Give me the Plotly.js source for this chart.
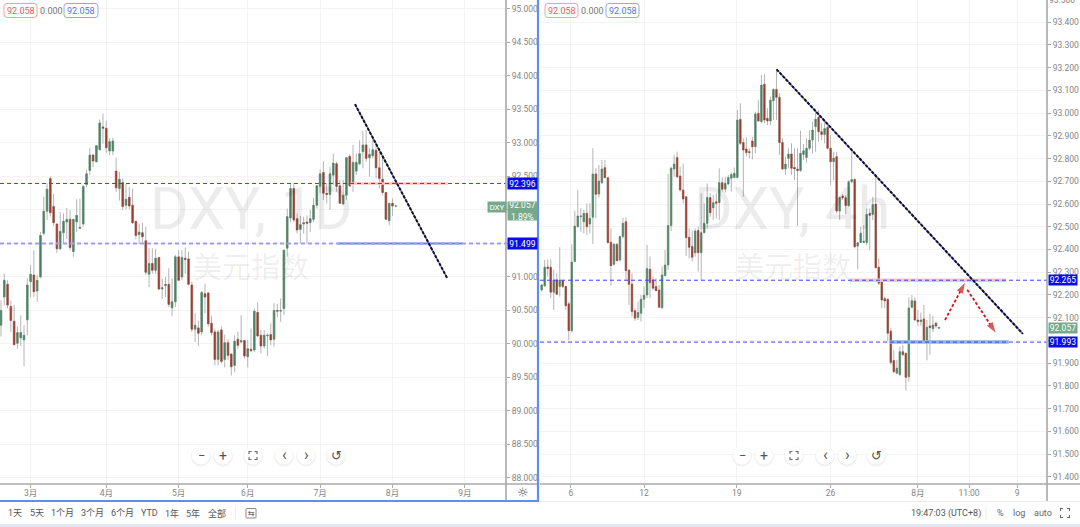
<!DOCTYPE html>
<html><head><meta charset="utf-8">
<script src="https://cdn.plot.ly/plotly-3.0.1.min.js"></script>
<style>html,body{margin:0;padding:0;background:#fff;overflow:hidden}#c{width:1080px;height:527px}</style>
</head><body><div id="c"></div><script>
// ---- Daily chart (left) ----
const leftOpen=[90.28,90.70,90.89,90.56,90.34,90.01,90.09,90.06,90.36,90.93,
91.03,90.79,91.00,91.65,91.98,92.47,92.05,91.79,91.42,91.66,
91.82,91.86,91.38,91.82,91.74,91.79,92.38,92.59,92.82,92.72,
92.90,93.24,93.22,92.88,92.88,92.58,92.32,92.41,92.07,92.19,
92.07,91.83,91.63,91.66,91.54,91.04,91.20,91.10,91.29,90.82,
90.87,90.89,90.54,90.63,91.30,91.00,91.28,91.27,90.88,90.22,
90.24,90.18,90.75,90.76,90.31,90.18,89.77,90.21,89.77,90.02,
89.85,89.68,90.07,90.03,90.05,89.81,89.92,89.91,90.47,90.13,
89.97,90.12,90.14,90.07,90.50,90.49,90.53,91.43,91.88,92.32,
91.87,91.71,91.79,91.82,91.81,91.86,92.07,92.35,92.56,92.25,
92.23,92.52,92.69,92.36,92.09,92.22,92.80,92.40,92.58,92.69,
92.87,92.97,92.78,92.81,92.89,92.63,92.46,92.26,91.84,92.10,92.057];
const leftClose=[90.50,90.95,90.58,90.35,89.99,90.17,90.17,90.13,90.88,91.04,
90.78,90.95,91.62,91.98,92.31,91.96,91.81,91.42,91.68,91.83,
91.86,91.44,91.86,91.92,91.73,92.35,92.54,92.82,92.73,92.96,
93.30,93.22,92.93,93.02,93.03,92.33,92.46,92.05,92.16,92.06,
91.81,91.62,91.67,91.60,91.07,91.20,91.10,91.28,90.82,90.84,
90.89,90.59,90.63,91.30,90.95,91.29,91.26,90.89,90.22,90.28,
90.16,90.77,90.70,90.30,90.17,89.77,90.18,89.74,90.02,89.83,
89.66,90.04,89.98,90.05,89.82,89.93,89.90,90.49,90.12,89.97,
90.13,90.13,90.06,90.50,90.49,90.50,91.40,91.90,92.32,91.85,
91.70,91.78,91.81,91.80,91.87,92.07,92.36,92.54,92.25,92.23,
92.54,92.70,92.35,92.10,92.22,92.78,92.36,92.71,92.71,92.84,
92.97,92.77,92.83,92.90,92.63,92.47,92.26,91.86,92.10,92.06,92.06];
const leftHigh=[90.65,91.05,90.95,90.65,90.58,90.26,90.43,90.28,90.98,91.18,
91.40,91.03,91.67,92.20,92.40,92.50,92.24,91.80,91.97,91.95,
92.03,92.00,91.87,92.16,92.17,92.37,92.60,92.92,92.84,92.97,
93.35,93.44,93.33,93.07,93.08,92.78,92.57,92.47,92.39,92.34,
92.32,91.83,91.80,91.81,91.75,91.43,91.43,91.42,91.30,90.98,
91.00,91.13,90.98,91.33,91.40,91.40,91.44,91.38,90.93,90.46,
90.35,90.79,90.90,90.78,90.42,90.23,90.21,90.26,90.14,90.07,
89.86,90.13,90.18,90.43,90.06,90.06,90.23,90.53,90.62,90.21,
90.21,90.16,90.31,90.61,90.60,90.68,91.40,92.02,92.40,92.40,
91.95,91.91,91.90,91.92,92.00,92.18,92.37,92.61,92.73,92.40,
92.65,92.84,92.72,92.45,92.45,92.79,92.83,92.97,92.84,93.04,
93.18,93.19,92.92,93.07,93.02,92.90,92.79,92.27,92.10,92.17,92.06];
const leftLow=[90.11,90.58,90.53,90.18,89.98,89.93,89.97,89.67,90.13,90.70,
90.70,90.63,90.98,91.62,91.85,91.90,91.76,91.36,91.40,91.50,
91.57,91.40,91.30,91.67,91.72,91.75,92.34,92.52,92.64,92.71,
92.89,92.99,92.85,92.82,92.82,92.27,92.14,92.00,92.01,92.01,
91.79,91.56,91.49,91.49,91.03,90.85,91.05,91.04,90.80,90.67,
90.70,90.55,90.42,90.55,90.94,90.95,91.05,90.87,90.18,90.03,
89.97,90.13,90.46,90.26,90.13,89.68,89.68,89.71,89.65,89.76,
89.53,89.58,89.93,90.01,89.78,89.65,89.88,89.88,90.10,89.86,
89.93,89.82,89.98,89.96,90.40,90.33,90.43,91.30,91.82,91.82,
91.65,91.50,91.65,91.50,91.67,91.82,92.02,92.25,92.15,92.10,
92.00,92.37,92.27,92.09,92.07,92.15,92.34,92.27,92.52,92.67,
92.62,92.72,92.50,92.77,92.47,92.32,92.22,91.85,91.77,91.91,92.05];
const leftTickPos=[9,32,54,75,97,119,141];
const leftTickText=["3月","4月","5月","6月","7月","8月","9月"];
const leftPriceTicks=[88,88.5,89,89.5,90,90.5,91,91.5,92,92.5,93,93.5,94,94.5,95];
const leftPriceLabels=["88.000","88.500","89.000","89.500","90.000","90.500","91.000","","","92.500","93.000","93.500","94.000","94.500","95.000"];

// ---- 4h chart (right) ----
const rightOpen=[92.222,92.240,92.323,92.322,92.212,92.266,92.237,92.262,92.237,92.161,
92.043,92.347,92.500,92.544,92.522,92.559,92.512,92.542,92.732,92.644,
92.694,92.760,92.716,92.432,92.335,92.423,92.354,92.457,92.522,92.310,
92.248,92.131,92.101,92.120,92.181,92.200,92.313,92.266,92.237,92.222,
92.144,92.285,92.332,92.505,92.754,92.804,92.723,92.662,92.632,92.454,
92.413,92.386,92.484,92.386,92.474,92.515,92.628,92.584,92.610,92.606,
92.694,92.665,92.688,92.713,92.717,92.717,92.972,92.870,92.842,92.830,
92.877,92.852,92.999,92.962,93.127,92.977,92.965,93.054,93.104,93.069,
92.871,92.754,92.801,92.820,92.761,92.754,92.747,92.818,92.805,92.845,
92.881,92.940,92.981,92.918,92.906,92.937,92.845,92.786,92.808,92.569,
92.635,92.628,92.593,92.698,92.708,92.415,92.431,92.431,92.431,92.559,
92.554,92.600,92.322,92.266,92.184,92.181,92.041,91.912,91.856,91.849,
91.951,91.944,91.841,92.146,92.174,92.090,92.083,92.095,91.997,92.064,
92.052,92.076,92.054];
const rightClose=[92.244,92.322,92.317,92.212,92.266,92.203,92.266,92.237,92.153,92.043,
92.345,92.503,92.547,92.547,92.559,92.500,92.537,92.732,92.643,92.701,
92.754,92.716,92.430,92.329,92.423,92.351,92.457,92.515,92.307,92.247,
92.127,92.098,92.123,92.181,92.199,92.316,92.254,92.230,92.219,92.146,
92.288,92.332,92.505,92.757,92.776,92.720,92.662,92.622,92.452,92.410,
92.366,92.481,92.386,92.474,92.515,92.629,92.562,92.606,92.603,92.694,
92.665,92.691,92.717,92.730,92.735,92.969,92.867,92.837,92.826,92.827,
92.852,92.996,92.965,93.123,92.969,92.965,93.057,93.104,93.069,92.870,
92.754,92.776,92.820,92.757,92.754,92.747,92.823,92.834,92.845,92.881,
92.925,92.973,92.918,92.906,92.932,92.845,92.786,92.802,92.569,92.629,
92.628,92.593,92.698,92.708,92.412,92.430,92.471,92.437,92.554,92.550,
92.598,92.320,92.252,92.178,92.174,92.032,91.903,91.863,91.878,91.951,
91.937,91.838,92.143,92.175,92.090,92.083,92.090,91.995,92.058,92.057,
92.068,92.064,92.057];
const rightHigh=[92.249,92.354,92.357,92.357,92.310,92.295,92.410,92.266,92.237,92.171,
92.423,92.571,92.662,92.581,92.574,92.603,92.603,92.845,92.757,92.771,
92.794,92.794,92.720,92.493,92.427,92.427,92.460,92.540,92.541,92.310,
92.295,92.142,92.171,92.200,92.237,92.420,92.369,92.281,92.273,92.244,
92.325,92.398,92.732,92.764,92.815,92.830,92.764,92.776,92.632,92.493,
92.483,92.493,92.500,92.647,92.603,92.691,92.647,92.640,92.647,92.757,
92.717,92.720,92.728,92.738,92.761,93.013,93.043,92.889,92.893,92.845,
92.896,93.006,93.057,93.167,93.171,93.021,93.072,93.108,93.192,93.087,
92.889,92.808,92.845,92.867,92.845,92.845,92.922,92.864,92.889,92.925,
92.962,93.020,93.013,92.957,92.969,92.954,92.903,92.830,92.830,92.632,
92.644,92.640,92.705,92.837,92.713,92.434,92.500,92.507,92.581,92.581,
92.632,92.730,92.361,92.266,92.193,92.186,92.054,91.959,91.915,91.973,
91.981,91.944,92.190,92.200,92.190,92.134,92.123,92.156,92.090,92.117,
92.108,92.083,92.060];
const rightLow=[92.215,92.237,92.281,92.186,92.134,92.200,92.193,92.230,92.134,92.002,
92.035,92.347,92.497,92.478,92.471,92.464,92.471,92.424,92.537,92.629,
92.688,92.713,92.427,92.241,92.328,92.347,92.347,92.449,92.266,92.156,
92.105,92.086,92.090,92.083,92.142,92.186,92.186,92.222,92.219,92.142,
92.137,92.284,92.310,92.481,92.720,92.713,92.654,92.603,92.373,92.361,
92.347,92.369,92.303,92.266,92.471,92.493,92.544,92.530,92.537,92.530,
92.654,92.650,92.684,92.654,92.713,92.713,92.859,92.632,92.808,92.801,
92.796,92.823,92.962,92.955,92.955,92.947,92.947,92.969,92.969,92.815,
92.750,92.728,92.757,92.728,92.706,92.505,92.742,92.794,92.782,92.837,
92.823,92.830,92.874,92.881,92.867,92.840,92.683,92.705,92.559,92.530,
92.617,92.556,92.588,92.691,92.405,92.314,92.430,92.427,92.419,92.397,
92.529,92.317,92.244,92.142,92.142,91.995,91.893,91.856,91.853,91.849,
91.934,91.780,91.819,92.142,92.086,92.064,92.064,91.991,91.912,91.937,
92.036,92.052,92.050];
const rightTickPos=[9.7,34,64.8,96,125,142,158];
const rightTickText=["6","12","19","26","8月","11:00","9"];
const rightPriceTicks=[91.4,91.5,91.6,91.7,91.8,91.9,92.0,92.1,92.2,92.3,92.4,92.5,92.6,92.7,92.8,92.9,93.0,93.1,93.2,93.3,93.4];
const rightPriceLabels=["91.400","91.500","91.600","91.700","91.800","91.900","","92.100","92.200","92.300","92.400","92.500","92.600","92.700","92.800","92.900","93.000","93.100","93.200","93.300","93.400"];

// ---- Levels and drawings ----
const leftLevels=[92.396,91.499], rightLevels=[92.265,91.993];
const leftTrend={x:[107.6,135.6],y:[93.58,90.985]};
const rightTrend={x:[78.07,159.9],y:[93.192,92.029]};
const arrowUp={x:[134,140.6],y:[92.090,92.253]};
const arrowDown={x:[141.4,150.8],y:[92.223,92.035]};
const lastPrice=92.057;

const W=1080,H=527;
const px=x=>x/W, py=y=>1-y/H;
const FONT='Roboto, "Noto Sans CJK SC", sans-serif';
const GREEN='#4a8564',RED='#a03c2e',WICK='#b4b4b4',GRID='#f3f3f3',AXIS='#a8a8a8',TXT='#858585';

function candles(o,h,l,c,xa,ya){
  const x=o.map((_,i)=>i);
  const hi=o.map((v,i)=>Math.max(v,c[i])), lo=o.map((v,i)=>Math.min(v,c[i]));
  const none={line:{color:WICK,width:1},fillcolor:'rgba(0,0,0,0)'};
  return [
    {type:'candlestick',x,open:o,high:h,low:l,close:c,xaxis:xa,yaxis:ya,whiskerwidth:0,increasing:none,decreasing:none,hoverinfo:'skip'},
    {type:'candlestick',x,open:o,high:hi,low:lo,close:c,xaxis:xa,yaxis:ya,whiskerwidth:0,
     increasing:{line:{color:GREEN,width:0.4},fillcolor:GREEN},decreasing:{line:{color:RED,width:0.4},fillcolor:RED},hoverinfo:'skip'}
  ];
}
const arrowTrace=(a,xa,ya)=>({type:'scatter',mode:'lines+markers',x:a.x,y:a.y,xaxis:xa,yaxis:ya,hoverinfo:'skip',
  line:{color:'#d01818',width:1.8,dash:'3px,2px'},
  marker:{symbol:'arrow',angleref:'previous',size:[0,11],color:'#c81414',line:{width:0}}});

const data=[...candles(leftOpen,leftHigh,leftLow,leftClose,'x','y'),
            ...candles(rightOpen,rightHigh,rightLow,rightClose,'x2','y2'),
            arrowTrace(arrowUp,'x2','y2'),arrowTrace(arrowDown,'x2','y2')];

const shapes=[],annotations=[];
const seg=(xr,yr,x0,y0,x1,y1,color,width,dash)=>shapes.push({type:'line',xref:xr,yref:yr,x0,y0,x1,y1,line:{color,width,dash:dash||'solid'}});
const pxLine=(x0,y0,x1,y1,color,width)=>seg('paper','paper',px(x0),py(y0),px(x1),py(y1),color,width);

// zones
seg('x','y',106.1,leftLevels[0],135.8,leftLevels[0],'#ffc2c2',2.5);
seg('x','y',102.4,leftLevels[1],140.4,leftLevels[1],'#5f86dc',2);
seg('x2','y2',102.4,rightLevels[0],154.3,rightLevels[0],'#ffc2c2',3.5);
seg('x2','y2',115.7,rightLevels[1],155.2,rightLevels[1],'#8db6ea',3.5);
// level lines
seg('paper','y',0,leftLevels[0],px(506),leftLevels[0],'#3d3dd8',1,'4px,3px');
seg('paper','y',0,leftLevels[1],px(506),leftLevels[1],'#9d9df5',2,'4px,3px');
seg('paper','y2',px(540),rightLevels[0],px(1047),rightLevels[0],'#3d3df0',1,'4px,3px');
seg('paper','y2',px(540),rightLevels[1],px(1047),rightLevels[1],'#3d3df0',1,'4px,3px');
// trend lines
seg('x','y',leftTrend.x[0],leftTrend.y[0],leftTrend.x[1],leftTrend.y[1],'#5a5ad8',1.2);
seg('x','y',leftTrend.x[0],leftTrend.y[0],leftTrend.x[1],leftTrend.y[1],'#111',2,'3px,1.5px');
seg('x2','y2',rightTrend.x[0],rightTrend.y[0],rightTrend.x[1],rightTrend.y[1],'#5a5af0',1.4);
seg('x2','y2',rightTrend.x[0],rightTrend.y[0],rightTrend.x[1],rightTrend.y[1],'#111',2,'3px,1.5px');
// frame
pxLine(506,0,506,500,AXIS,1.6);
pxLine(0,484,538,484,AXIS,1.6);
pxLine(1047,0,1047,501,AXIS,1.6);
pxLine(540,484,1080,484,AXIS,1.6);
pxLine(540,501.5,1080,501.5,'#ececec',1);
pxLine(538,0,538,502,'#5f8df0',2.2);
pxLine(0,501,538,501,'#5f8df0',2.2);
shapes.push({type:'rect',xref:'paper',yref:'paper',x0:0,x1:1,y0:py(527),y1:py(524),fillcolor:'#e3e8f3',line:{width:0}});
pxLine(235.5,506,235.5,520,'#ececec',1);
pxLine(986,506,986,520,'#ececec',1);

function text(x,y,t,size,color,extra){
  annotations.push(Object.assign({xref:'paper',yref:'paper',x:px(x),y:py(y),text:t,showarrow:false,
    xanchor:'center',yanchor:'middle',font:{family:FONT,size,color},borderpad:0},extra||{}));
}
function rrect(x0,y0,x1,y1,r,stroke,fill){
  const X=v=>px(v).toFixed(5),Y=v=>py(v).toFixed(5);
  shapes.push({type:'path',xref:'paper',yref:'paper',fillcolor:fill,line:{color:stroke,width:1},
   path:`M${X(x0+r)} ${Y(y0)}L${X(x1-r)} ${Y(y0)}Q${X(x1)} ${Y(y0)} ${X(x1)} ${Y(y0+r)}L${X(x1)} ${Y(y1-r)}Q${X(x1)} ${Y(y1)} ${X(x1-r)} ${Y(y1)}L${X(x0+r)} ${Y(y1)}Q${X(x0)} ${Y(y1)} ${X(x0)} ${Y(y1-r)}L${X(x0)} ${Y(y0+r)}Q${X(x0)} ${Y(y0)} ${X(x0+r)} ${Y(y0)}Z`});
}
function circle(cx,cy,r,fill,stroke){
  shapes.push({type:'circle',xref:'paper',yref:'paper',x0:px(cx-r),x1:px(cx+r),y0:py(cy+r),y1:py(cy-r),fillcolor:fill,line:{color:stroke,width:1}});
}
function corners(cx,cy,s,k){
  const X=v=>px(v).toFixed(5),Y=v=>py(v).toFixed(5),a=cx-s,b=cx+s,c=cy-s,d=cy+s;
  const p=`M${X(a)} ${Y(c+k)}L${X(a)} ${Y(c)}L${X(a+k)} ${Y(c)}M${X(b-k)} ${Y(c)}L${X(b)} ${Y(c)}L${X(b)} ${Y(c+k)}M${X(b)} ${Y(d-k)}L${X(b)} ${Y(d)}L${X(b-k)} ${Y(d)}M${X(a+k)} ${Y(d)}L${X(a)} ${Y(d)}L${X(a)} ${Y(d-k)}`;
  shapes.push({type:'path',xref:'paper',yref:'paper',path:p,line:{color:'#666',width:1.1}});
}
// header pills
[[4,37,64,98,20.5,51,81],[545,578,606,639,561.5,592.5,622.5]].forEach(p=>{
  rrect(p[0],3.5,p[1],17.5,3,'#f7a0a0','#fff');
  rrect(p[2],3.5,p[3],17.5,3,'#8aaaf7','#fff');
  text(p[4],11,'92.058',9,'#f05a5a');
  text(p[5],11,'0.000',9,'#777');
  text(p[6],11,'92.058',9,'#4a78ef');
});
// watermarks
const wm='rgba(0,0,0,0.075)';
text(251,208,'DXY, 1D',59,wm);
text(251,268,'美元指数',29,wm);
text(792,208,'DXY, 4h',59,wm);
text(793,268,'美元指数',29,wm);
// zoom buttons
[[201,223,253,284,306,336],[742,764,794,825,847,876]].forEach(b=>{
  b.forEach(x=>{circle(x,456.5,9.5,'#f1f1f1','#f1f1f1');circle(x,455.5,8.5,'#fff','#fff');});
  text(b[0],455.5,'−',13,'#555');
  text(b[1],455.5,'+',14,'#555');
  corners(b[2],455.5,4,2.5);
  text(b[3],454.5,'‹',16,'#555');
  text(b[4],454.5,'›',16,'#555');
  text(b[5],455.5,'↺',13,'#555',{font:{family:'DejaVu Sans',size:13,color:'#555'}});
});
// price tags
function tag(xr,x,yr,y,w,h,t,bg,size){
  annotations.push({xref:xr,yref:yr,x,y,text:t,showarrow:false,xanchor:'left',yanchor:'middle',align:'center',width:w,height:h,
    bgcolor:bg,borderpad:0,font:{family:FONT,size:size||8.5,color:'#fff'}});
}
tag('paper',px(507),'y',leftLevels[0],29,11,leftLevels[0].toFixed(3),'#0a0af0');
tag('paper',px(507),'y',leftLevels[1],29,11,leftLevels[1].toFixed(3),'#0a0af0');
tag('paper',px(507),'y',91.99,29,18,'92.057<br>1.89%','#76a98b');
tag('paper',px(487),'y',92.05,18,10,'DXY','#76a98b',8);
tag('paper',px(1048),'y2',rightLevels[0],28,10,rightLevels[0].toFixed(3),'#0a0af0');
tag('paper',px(1048),'y2',lastPrice,28,10,'92.057','#76a98b');
tag('paper',px(1048),'y2',rightLevels[1],28,10,rightLevels[1].toFixed(3),'#0a0af0');
// top label of the right scale, cut by the page edge as in the picture
text(1062,0,'93.500',8.5,TXT);
// toolbar
const barLabels=["1天","5天","1个月","3个月","6个月","YTD","1年","5年","全部"];
const barPos=[15,37,62,92,122,149,172,193,217];
barLabels.forEach((t,i)=>text(barPos[i],513,t,9,'#555'));
text(523,492.5,'☼',13,'#555',{font:{family:'DejaVu Sans',size:13,color:'#555'}});
rrect(246,508.5,256,518,0.5,'#888','rgba(0,0,0,0)');
text(251,513.5,'⇆',8,'#666',{font:{family:'DejaVu Sans',size:8,color:'#666'}});
text(946,513,'19:47:03 (UTC+8)',9,'#555');
text(1000,513,'%',9,'#666');
text(1019,513,'log',9,'#666');
text(1043,513,'auto',9,'#666');
corners(1065,513,4.5,2.5);

const yTop=py(0), yBot=py(484);
const axX=(l,r,pos,ticks)=>({domain:[px(l),px(r)],range:pos,type:'linear',showgrid:true,gridcolor:GRID,gridwidth:1,zeroline:false,
  tickmode:'array',tickvals:ticks[0],ticktext:ticks[1],ticks:'outside',ticklen:3,tickcolor:AXIS,tickwidth:1,showline:false,ticklabelstandoff:-2,
  tickfont:{family:FONT,size:8.5,color:TXT},rangeslider:{visible:false},fixedrange:true});
const axY=(range,vals,labels,anchor)=>({domain:[yBot,yTop],range,side:'right',anchor,showgrid:true,gridcolor:GRID,gridwidth:1,zeroline:false,
  tickmode:'array',tickvals:vals,ticktext:labels,ticks:'outside',ticklen:3,tickcolor:AXIS,tickwidth:1,showline:false,
  tickfont:{family:FONT,size:8.5,color:TXT},fixedrange:true});

const layout={width:W,height:H,margin:{l:0,r:0,t:0,b:0,pad:0},paper_bgcolor:'#fff',plot_bgcolor:'#fff',showlegend:false,hovermode:false,
  boxgap:0.3,boxmode:'overlay',dragmode:false,
  xaxis:axX(0,506,[-0.3,153.5],[leftTickPos,leftTickText]),
  yaxis:axY([87.91,95.134],leftPriceTicks,leftPriceLabels,'x'),
  xaxis2:Object.assign(axX(540,1047,[-0.565,167.9],[rightTickPos,rightTickText]),{anchor:'y2'}),
  yaxis2:axY([91.369,93.497],rightPriceTicks,rightPriceLabels,'x2'),
  shapes,annotations};
Plotly.newPlot('c',data,layout,{displayModeBar:false,staticPlot:true});
</script></body></html>
